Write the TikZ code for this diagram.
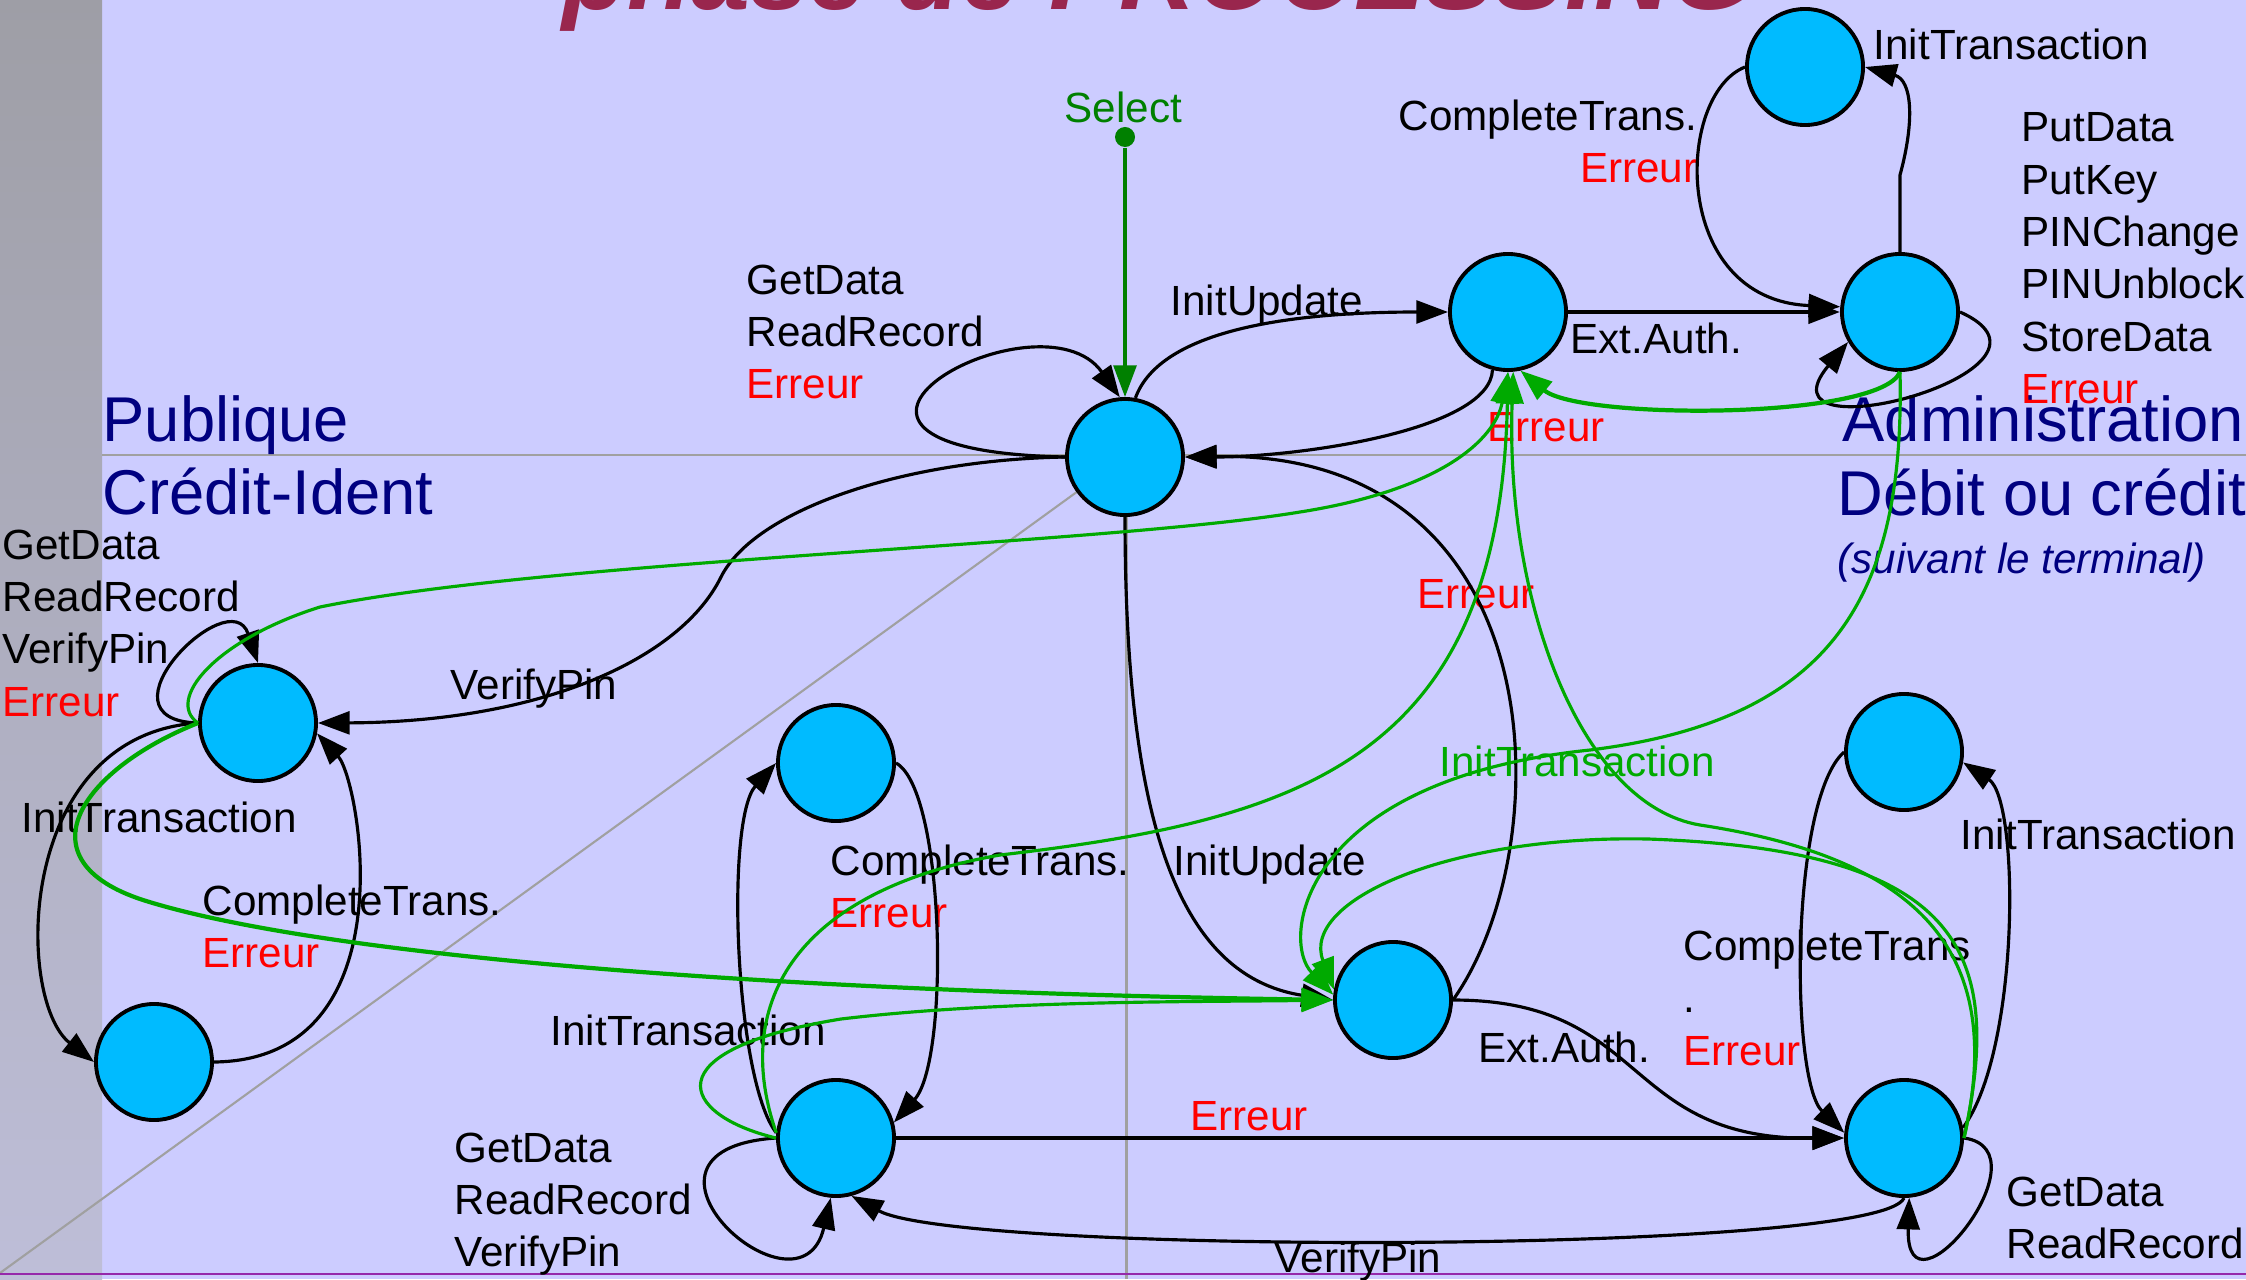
\documentclass[tikz,border=0pt]{standalone}
\usepackage{fontspec}
\setmainfont{Liberation Sans}
\usetikzlibrary{arrows.meta}
\definecolor{fond}{RGB}{204,204,255}
\definecolor{bandehaut}{RGB}{158,158,166}
\definecolor{bandebas}{RGB}{190,190,216}
\definecolor{bleu}{RGB}{0,187,255}
\definecolor{vert}{RGB}{0,170,0}
\definecolor{vertfonce}{RGB}{0,128,0}
\definecolor{marine}{RGB}{0,0,128}
\definecolor{titre}{RGB}{153,38,77}
\definecolor{trait}{RGB}{160,160,160}
\definecolor{pied}{RGB}{150,40,170}
\tikzset{>={Triangle[length=9pt,width=6.5pt]},
  etat/.style={circle,draw,line width=1.1pt,fill=bleu,minimum size=1.16cm,inner sep=0pt},
  txt/.style={font=\fontsize{12}{14.9}\selectfont,inner sep=0pt},
  zone/.style={font=\fontsize{18}{22}\selectfont,text=marine,inner sep=0pt,anchor=base west},
  fleche/.style={->,line width=0.9pt},
  flechev/.style={->,draw=vert,line width=0.9pt}}

\begin{document}
\begin{tikzpicture}[x=0.01cm,y=-0.01cm]
\useasboundingbox (0,0) rectangle (2246,1279);
\begin{scope}
\fill[fond] (0,0) rectangle (2246,1279);
\shade[top color=bandehaut,bottom color=bandebas] (0,0) rectangle (102,1279);
\draw[trait,line width=0.85pt] (102,455) -- (2246,455);
\draw[trait,line width=0.85pt] (1126,455) -- (1126,1279);
\draw[trait,line width=0.6pt] (0,1273) -- (1125,457);
\draw[pied,line width=0.5pt] (0,1274) -- (2246,1274);

\node[anchor=base west,inner sep=0pt,text=titre,font=\fontsize{30}{36}\selectfont\bfseries\itshape] (titre) at (562,10) {phase de PROCESSING};

\node[zone] (zpub) at (102,441) {Publique};
\node[zone] (zci) at (102,514) {Crédit-Ident};
\node[zone] (zadm) at (1842,441) {Administration};
\node[zone] (zdeb) at (1837,515) {Débit ou crédit};
\node[txt,text=marine,anchor=base west,font=\fontsize{12}{14.9}\selectfont\itshape] (zsuiv) at (1837,573) {(suivant le terminal)};

\node[etat] (pub) at (1125,457) {};
\node[etat] (upd) at (1508,312) {};
\node[etat] (adm) at (1900,312) {};
\node[etat] (admt) at (1805,67) {};
\node[etat] (ci) at (258,723) {};
\node[etat] (cib) at (154,1062) {};
\node[etat] (dg) at (836,1138) {};
\node[etat] (dgt) at (836,763) {};
\node[etat] (dm) at (1393,1000) {};
\node[etat] (dd) at (1904,1138) {};
\node[etat] (ddt) at (1904,752) {};
\node[circle,fill=vertfonce,inner sep=0pt,minimum size=0.2cm] (sel) at (1125,137) {};

\node[txt,text=vertfonce,anchor=base west] (tsel) at (1064,123) {Select};
\node[txt,anchor=north west,align=left] (tboucle) at (746,264) {GetData\\ReadRecord\\\textcolor{red}{Erreur}};
\node[txt,anchor=base west] (tupd) at (1170,315) {InitUpdate};
\node[txt,text=red,anchor=base west] (terr1) at (1487,441) {Erreur};
\node[txt,anchor=base west] (text1) at (1570,353) {Ext.Auth.};
\node[txt,anchor=north east,align=right] (tfin1) at (1698,99) {CompleteTrans.\\\textcolor{red}{Erreur}};
\node[txt,anchor=base west] (tinit1) at (1873,60) {InitTransaction};
\node[txt,anchor=north west,align=left] (tadm) at (2021,112) {PutData\\PutKey\\PINChange\\PINUnblock\\StoreData\\\textcolor{red}{Erreur}};
\node[txt,anchor=north west,align=left] (tci) at (2,529) {GetData\\ReadRecord\\VerifyPin\\\textcolor{red}{Erreur}};
\node[txt,anchor=base west] (tpin1) at (450,699) {VerifyPin};
\node[txt,anchor=base west] (tinit2) at (21,832) {InitTransaction};
\node[txt,anchor=north west,align=left] (tfin2) at (202,884) {CompleteTrans.\\\textcolor{red}{Erreur}};
\node[txt,anchor=north west,align=left] (tdg) at (454,1132) {GetData\\ReadRecord\\VerifyPin};
\node[txt,anchor=base west] (tinit3) at (550,1045) {InitTransaction};
\node[txt,anchor=north west,align=left] (tfin3) at (830,844) {CompleteTrans.\\\textcolor{red}{Erreur}};
\node[txt,anchor=base west] (tupd2) at (1173,875) {InitUpdate};
\node[txt,text=red,anchor=base west] (terr2) at (1417,608) {Erreur};
\node[txt,text=vert,anchor=base west] (tinit4) at (1439,776) {InitTransaction};
\node[txt,anchor=base west] (text2) at (1478,1062) {Ext.Auth.};
\node[txt,anchor=north west,align=left] (tfin4) at (1683,929) {CompleteTrans\\.\\\textcolor{red}{Erreur}};
\node[txt,text=red,anchor=base west] (terr3) at (1190,1130) {Erreur};
\node[txt,anchor=base west] (tpin2) at (1274,1272) {VerifyPin};
\node[txt,anchor=base west] (tinit5) at (1960,849) {InitTransaction};
\node[txt,anchor=north west,align=left] (tdd) at (2006,1176) {GetData\\ReadRecord};

\draw[->,draw=vertfonce,line width=0.9pt] (sel) -- (pub);
\draw[fleche] (pub.west) .. controls (740,450) and (1040,285) .. (pub.95);
\draw[fleche] (pub.80) .. controls (1160,330) and (1290,312) .. (upd.west);
\draw[fleche] (upd.255) .. controls (1490,430) and (1300,457) .. (pub.east);
\draw[fleche,line width=1.3pt] (upd.east) -- (adm.west);
\draw[fleche] (adm.north) -- (1900,175) .. controls (1915,120) and (1912,80) .. (admt.east);
\draw[fleche] (admt.west) .. controls (1675,95) and (1670,300) .. (adm.175);
\draw[fleche] (adm.east) .. controls (2090,370) and (1750,460) .. (adm.210);
\draw[fleche] (pub.west) .. controls (900,460) and (754,511) .. (721,577) .. controls (680,660) and (540,722) .. (ci.east);
\draw[fleche] (ci.west) .. controls (90,720) and (230,580) .. (ci.north);
\draw[fleche] (ci.west) .. controls (15,735) and (15,1000) .. (cib.west);
\draw[fleche] (cib.east) .. controls (410,1060) and (360,780) .. (ci.-10);
\draw[fleche] (pub.south) .. controls (1125,800) and (1170,975) .. (dm.west);
\draw[fleche] (dm.east) .. controls (1560,850) and (1560,450) .. (pub.east);
\draw[fleche] (dm.east) .. controls (1650,1000) and (1620,1140) .. (dd.west);
\draw[fleche,line width=1.3pt] (dg.east) -- (dd.west);
\draw[fleche] (dd.south) .. controls (1880,1255) and (960,1255) .. (dg.-75);
\draw[fleche] (dg.west) .. controls (600,1150) and (800,1330) .. (dg.-95);
\draw[fleche] (dg.175) .. controls (735,1080) and (725,820) .. (dgt.west);
\draw[fleche] (dgt.east) .. controls (945,790) and (950,1060) .. (dg.15);
\draw[fleche] (dd.10) .. controls (2020,1050) and (2020,800) .. (ddt.-10);
\draw[fleche] (ddt.west) .. controls (1790,800) and (1790,1080) .. (dd.175);
\draw[fleche] (dd.east) .. controls (2050,1150) and (1905,1330) .. (dd.-85);

\draw[flechev,line width=1.2pt] (adm.south) .. controls (1880,420) and (1580,420) .. (upd.-78);
\draw[flechev] (ci.west) .. controls (165,700) and (215,640) .. (320,607) .. controls (550,560) and (1100,545) .. (1300,512) .. controls (1440,490) and (1495,440) .. (upd.south);
\draw[flechev,line width=1.2pt] (ci.west) .. controls (80,770) and (20,860) .. (143,900) .. controls (300,950) and (700,990) .. (dm.west);
\draw[flechev] (dg.west) .. controls (680,1115) and (650,1050) .. (841,1019) .. controls (1000,1000) and (1200,1002) .. (dm.west);
\draw[flechev] (dg.175) .. controls (730,1000) and (800,890) .. (1000,855) .. controls (1300,820) and (1500,760) .. (upd.south);
\draw[flechev] (adm.south) .. controls (1905,600) and (1830,720) .. (1590,750) .. controls (1300,780) and (1280,940) .. (dm.175);
\draw[flechev] (dd.east) .. controls (2005,950) and (1960,850) .. (1648,839) .. controls (1450,835) and (1300,900) .. (dm.170);
\draw[flechev] (dd.east) .. controls (2005,960) and (1930,860) .. (1700,825) .. controls (1580,805) and (1505,600) .. (upd.-85);
\end{scope}
\end{tikzpicture}
\end{document}
